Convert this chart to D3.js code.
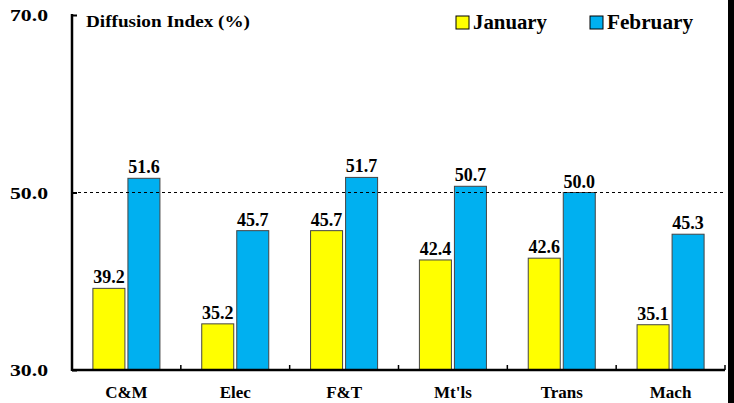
<!DOCTYPE html>
<html><head><meta charset="utf-8">
<script src="https://cdn.jsdelivr.net/npm/d3@7"></script>
<style>body{margin:0;background:#fff}svg{display:block}</style>
</head><body><svg id="c" width="734" height="403"></svg>
<script>
const categories = ["C&M","Elec","F&T","Mt'ls","Trans","Mach"];
const january = [39.2,35.2,45.7,42.4,42.6,35.1];
const february = [51.6,45.7,51.7,50.7,50.0,45.3];
const seriesNames = ["January","February"];
const yTicks = [30,50,70];

const FONT = "'Liberation Serif', Tinos, 'Times New Roman', Times, 'DejaVu Serif', serif";
const colors = {January:"#FFFF00", February:"#00B0F0"};
const svg = d3.select("#c").attr("font-family",FONT).attr("font-weight","bold");
const x0 = 72, x1 = 725, yTop = 15, yBot = 370;
const x = d3.scaleBand().domain(categories).range([x0,x1]).paddingInner(0).paddingOuter(0);
const xs = d3.scaleBand().domain(seriesNames).range([0,x.bandwidth()]).paddingOuter(0.597).paddingInner(0.086);
const y = d3.scaleLinear().domain([30,70]).range([yBot,yTop]);

// right black strip
svg.append("rect").attr("x",728).attr("y",0).attr("width",6).attr("height",403).attr("fill","#000");

const data = seriesNames.map((s,i)=>({name:s, values:(i?february:january)}));
data.forEach(s=>{
  const g = svg.append("g");
  g.selectAll("rect").data(categories).enter().append("rect")
    .attr("x",(c)=>x(c)+xs(s.name))
    .attr("y",(c,i)=>y(s.values[i]))
    .attr("width",xs.bandwidth())
    .attr("height",(c,i)=>yBot-y(s.values[i]))
    .attr("fill",colors[s.name]).attr("stroke","#444").attr("stroke-width",1);
  g.selectAll("text").data(categories).enter().append("text")
    .attr("x",(c)=>x(c)+xs(s.name)+xs.bandwidth()/2)
    .attr("y",(c,i)=>y(s.values[i])-5)
    .attr("text-anchor","middle").attr("font-size",18)
    .attr("font-family",FONT).attr("font-weight","bold")
    .text((c,i)=>s.values[i].toFixed(1));
});

// dashed 50 line
svg.append("line").attr("x1",x0).attr("x2",x1).attr("y1",y(50)).attr("y2",y(50))
  .attr("stroke","#000").attr("stroke-width",1).attr("stroke-dasharray","3,3");

// y axis
const yAxis = d3.axisRight(y).tickValues(yTicks).tickSize(5).tickFormat("");
const ga = svg.append("g").attr("transform",`translate(${x0},0)`).call(yAxis);
ga.select(".domain").remove();
ga.selectAll("line").attr("stroke","#000").attr("stroke-width",2);
svg.append("line").attr("x1",x0).attr("x2",x0).attr("y1",yTop-1).attr("y2",yBot+1).attr("stroke","#000").attr("stroke-width",2.5);
svg.selectAll(".ylab").data(yTicks).enter().append("text")
  .attr("x",10).attr("y",d=>y(d)+6).attr("font-size",17)
  .attr("textLength",38).attr("lengthAdjust","spacingAndGlyphs")
  .attr("font-family",FONT).attr("font-weight","bold")
  .text(d=>d.toFixed(1));

// x axis
svg.append("line").attr("x1",x0).attr("x2",x1).attr("y1",yBot).attr("y2",yBot).attr("stroke","#000").attr("stroke-width",2.5);
const bounds = categories.map(c=>x(c)+x.bandwidth());
svg.selectAll(".xt").data(bounds).enter().append("line")
  .attr("x1",d=>d).attr("x2",d=>d).attr("y1",yBot).attr("y2",yBot-5).attr("stroke","#000").attr("stroke-width",1.5);
svg.selectAll(".xlab").data(categories).enter().append("text")
  .attr("x",c=>x(c)+x.bandwidth()/2).attr("y",398).attr("text-anchor","middle").attr("font-size",17)
  .attr("font-family",FONT).attr("font-weight","bold")
  .text(c=>c);

// axis title
svg.append("text").attr("x",86).attr("y",27).attr("font-size",17)
  .attr("textLength",164).attr("lengthAdjust","spacingAndGlyphs")
  .attr("font-family",FONT).attr("font-weight","bold").text("Diffusion Index (%)");

// legend
const lx = [456,590], lw = [74,86];
seriesNames.forEach((s,i)=>{
  svg.append("rect").attr("x",lx[i]).attr("y",16).attr("width",13).attr("height",13)
    .attr("fill",colors[s]).attr("stroke","#000").attr("stroke-width",1);
  svg.append("text").attr("x",lx[i]+17).attr("y",29).attr("font-size",20)
    .attr("textLength",lw[i]).attr("lengthAdjust","spacingAndGlyphs")
    .attr("font-family",FONT).attr("font-weight","bold").text(s);
});
</script></body></html>
